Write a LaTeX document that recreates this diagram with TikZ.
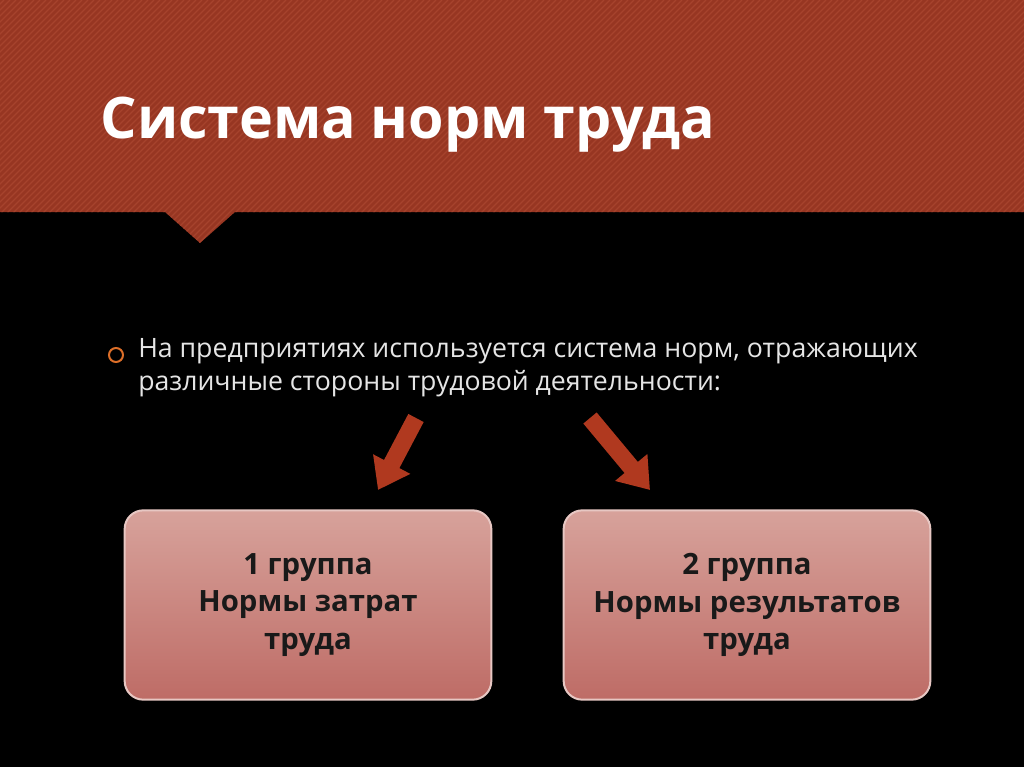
\documentclass[tikz,border=0pt]{standalone}
\usepackage{fontspec}
\setmainfont{Open Sans}
\usetikzlibrary{arrows.meta}
\definecolor{band}{HTML}{973622}
\definecolor{stripe}{HTML}{A6432D}
\definecolor{boxtop}{HTML}{D7A29B}
\definecolor{boxbot}{HTML}{BE6C66}
\definecolor{arr}{HTML}{B0391F}
\tikzset{
  grp/.style={draw=boxtop!60!white,line width=1.5pt,rounded corners=14pt,top color=boxtop,bottom color=boxbot,minimum width=275pt,minimum height=142pt,align=center,font=\fontsize{22}{28}\selectfont\bfseries,text=black!90},
  bigarrow/.style={-{Triangle[width=30pt,length=22pt]},line width=13pt,draw=arr}
}
\begin{document}
\begin{tikzpicture}[x=0.75pt,y=-0.75pt]
\useasboundingbox (0,0) rectangle (1024,767);
\fill[black] (0,0) rectangle (1024,767);
\fill[band] (0,0) -- (1024,0) -- (1024,212) -- (235,212) -- (200,243) -- (165,212) -- (0,212) -- cycle;
\begin{scope}
\clip (0,0) -- (1024,0) -- (1024,212) -- (235,212) -- (200,243) -- (165,212) -- (0,212) -- cycle;
\foreach \i in {-300,-294,...,1100} \draw[stripe,line width=1pt] (\i,250) -- (\i+250,0);
\end{scope}
\node[anchor=west,text=white,font=\fontsize{43}{46}\selectfont\bfseries] (title) at (96,125) {Система норм труда};
\draw[draw={rgb,255:red,220;green,110;blue,40},line width=1.5pt] (116,355) circle (7);
\node[anchor=north west,text=black!10,align=left,font=\fontsize{20}{25}\selectfont,inner sep=0] (txt) at (138,338) {На предприятиях используется система норм, отражающих\\различные стороны трудовой деятельности:};
\node[grp] (g1) at (308,605) {1 группа\\Нормы затрат\\труда};
\node[grp] (g2) at (747,605) {2 группа\\Нормы результатов\\труда};
\coordinate (a1) at (416,418);
\coordinate (e1) at (378,490);
\coordinate (a2) at (590,418);
\coordinate (e2) at (650,490);
\draw[bigarrow] (a1) -- (e1);
\draw[bigarrow] (a2) -- (e2);
\end{tikzpicture}
\end{document}
